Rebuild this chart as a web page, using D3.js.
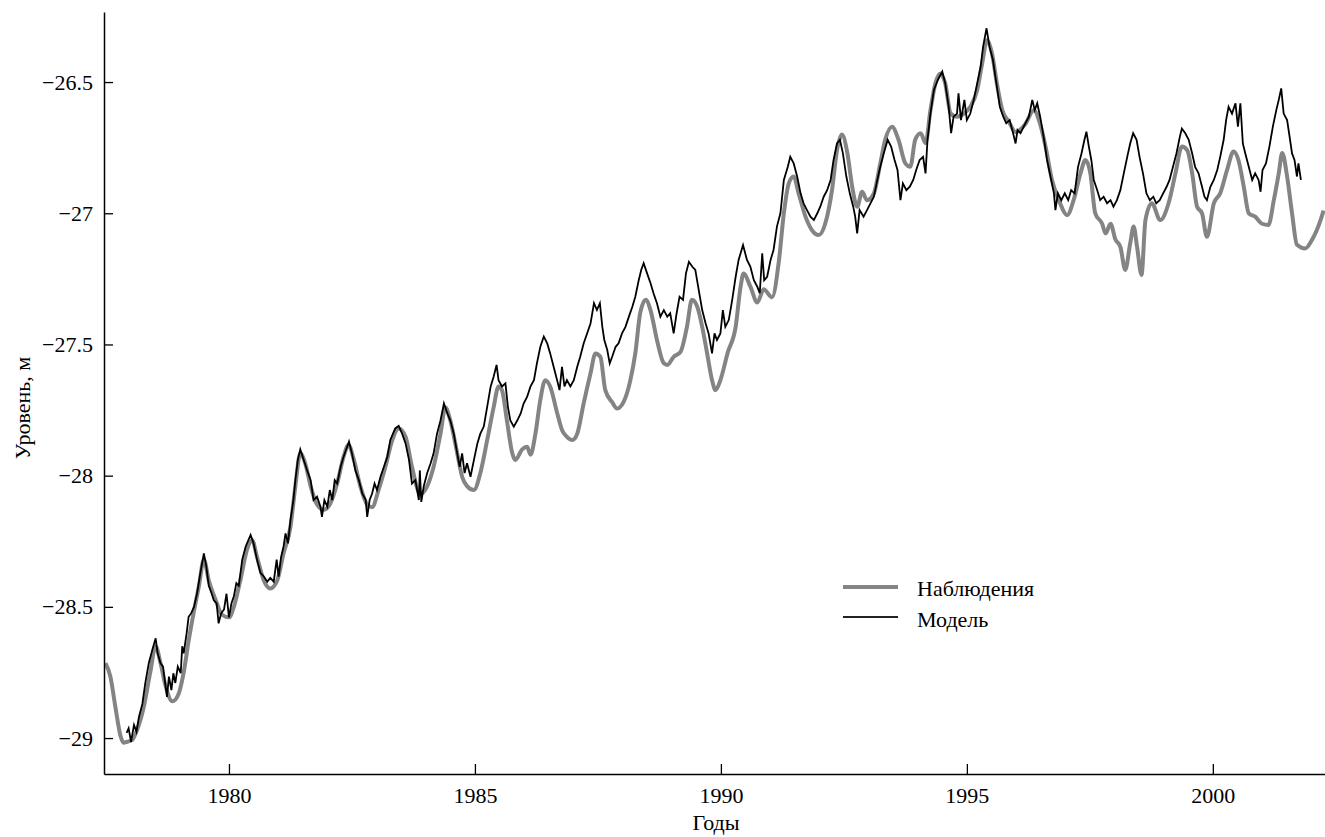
<!DOCTYPE html>
<html>
<head>
<meta charset="utf-8">
<script src="https://cdn.jsdelivr.net/npm/d3@7"></script>
<style>
  body { margin: 0; background: #fff; }
  svg { display: block; font-family: "Liberation Serif", "DejaVu Serif", serif; }
</style>
</head>
<body>
<svg id="chart" width="1325" height="837"></svg>
<script>
var xTicks = [1980, 1985, 1990, 1995, 2000];
var yTicks = [-26.5, -27, -27.5, -28, -28.5, -29];
var legendLabels = ["Наблюдения", "Модель"];

// [year, level, m]
var observed = [
  [1977.49,-28.715],[1977.59,-28.766],[1977.69,-28.88],[1977.80,-28.995],[1977.86,-29.018],[1977.93,-29.014],
  [1978.03,-29.008],[1978.13,-28.97],[1978.27,-28.88],[1978.40,-28.75],[1978.51,-28.65],[1978.61,-28.715],
  [1978.71,-28.80],[1978.85,-28.86],[1978.98,-28.83],[1979.08,-28.75],[1979.18,-28.63],[1979.28,-28.525],
  [1979.39,-28.42],[1979.49,-28.32],[1979.59,-28.40],[1979.73,-28.474],[1979.86,-28.53],[1980.00,-28.54],
  [1980.10,-28.50],[1980.23,-28.40],[1980.37,-28.28],[1980.47,-28.245],[1980.57,-28.31],[1980.71,-28.40],
  [1980.84,-28.43],[1980.98,-28.40],[1981.11,-28.296],[1981.25,-28.195],[1981.35,-28.04],[1981.45,-27.915],
  [1981.55,-27.953],[1981.66,-28.04],[1981.79,-28.11],[1981.93,-28.13],[1982.06,-28.106],[1982.20,-28.03],
  [1982.33,-27.928],[1982.43,-27.883],[1982.54,-27.94],[1982.67,-28.04],[1982.81,-28.11],[1982.91,-28.12],
  [1983.04,-28.055],[1983.18,-27.966],[1983.32,-27.864],[1983.45,-27.82],[1983.59,-27.852],[1983.72,-27.966],
  [1983.89,-28.07],[1984.03,-28.04],[1984.16,-27.966],[1984.30,-27.84],[1984.40,-27.74],[1984.50,-27.79],
  [1984.64,-27.915],[1984.74,-28.004],[1984.84,-28.04],[1984.98,-28.055],[1985.11,-27.99],[1985.25,-27.864],
  [1985.38,-27.74],[1985.48,-27.66],[1985.55,-27.674],[1985.65,-27.79],[1985.76,-27.915],[1985.82,-27.94],
  [1985.96,-27.90],[1986.06,-27.89],[1986.13,-27.92],[1986.23,-27.84],[1986.33,-27.71],[1986.43,-27.636],
  [1986.53,-27.66],[1986.67,-27.76],[1986.77,-27.826],[1986.87,-27.852],[1986.98,-27.864],[1987.08,-27.84],
  [1987.21,-27.725],[1987.35,-27.61],[1987.45,-27.534],[1987.55,-27.547],[1987.65,-27.674],[1987.79,-27.72],
  [1987.89,-27.744],[1988.02,-27.72],[1988.16,-27.636],[1988.26,-27.534],[1988.36,-27.38],[1988.47,-27.33],
  [1988.57,-27.37],[1988.70,-27.483],[1988.84,-27.572],[1988.91,-27.578],[1989.04,-27.547],[1989.18,-27.528],
  [1989.31,-27.433],[1989.41,-27.33],[1989.52,-27.356],[1989.62,-27.433],[1989.72,-27.534],[1989.82,-27.636],
  [1989.89,-27.674],[1989.99,-27.636],[1990.14,-27.53],[1990.30,-27.433],[1990.40,-27.28],[1990.46,-27.23],
  [1990.60,-27.28],[1990.74,-27.34],[1990.87,-27.29],[1991.04,-27.32],[1991.18,-27.18],[1991.28,-27.0],
  [1991.38,-26.886],[1991.48,-26.86],[1991.58,-26.924],[1991.72,-27.013],[1991.85,-27.064],[1991.99,-27.083],
  [1992.12,-27.04],[1992.26,-26.91],[1992.36,-26.76],[1992.46,-26.70],[1992.57,-26.77],[1992.67,-26.90],
  [1992.77,-26.975],[1992.87,-26.918],[1992.97,-26.95],[1993.11,-26.924],[1993.24,-26.81],[1993.34,-26.72],
  [1993.48,-26.67],[1993.61,-26.72],[1993.75,-26.81],[1993.85,-26.823],[1993.95,-26.72],[1994.06,-26.695],
  [1994.16,-26.733],[1994.26,-26.607],[1994.36,-26.505],[1994.46,-26.467],[1994.56,-26.505],[1994.67,-26.62],
  [1994.80,-26.632],[1994.94,-26.62],[1995.07,-26.594],[1995.21,-26.53],[1995.31,-26.43],[1995.41,-26.34],
  [1995.51,-26.39],[1995.61,-26.505],[1995.72,-26.607],[1995.85,-26.65],[1995.99,-26.69],[1996.19,-26.66],
  [1996.36,-26.607],[1996.49,-26.66],[1996.60,-26.746],[1996.73,-26.873],[1996.87,-26.95],[1997.04,-27.007],
  [1997.17,-26.95],[1997.31,-26.848],[1997.41,-26.797],[1997.51,-26.848],[1997.61,-27.0],[1997.75,-27.04],
  [1997.82,-27.077],[1997.92,-27.04],[1998.02,-27.10],[1998.12,-27.128],[1998.22,-27.216],[1998.32,-27.115],
  [1998.39,-27.05],[1998.46,-27.128],[1998.55,-27.235],[1998.63,-27.026],[1998.76,-26.962],[1998.93,-27.026],
  [1999.10,-26.962],[1999.24,-26.848],[1999.37,-26.746],[1999.48,-26.76],[1999.58,-26.848],[1999.68,-26.975],
  [1999.78,-27.0],[1999.88,-27.09],[2000.02,-26.962],[2000.15,-26.924],[2000.29,-26.835],[2000.42,-26.765],
  [2000.52,-26.797],[2000.63,-26.90],[2000.73,-27.0],[2000.86,-27.013],[2001.00,-27.04],[2001.13,-27.045],
  [2001.24,-26.95],[2001.34,-26.848],[2001.41,-26.77],[2001.51,-26.86],[2001.61,-27.0],[2001.71,-27.12],
  [2001.88,-27.134],[2002.02,-27.10],[2002.19,-27.026],[2002.25,-26.99]
];

var model = [
  [1977.92,-28.98],[1977.96,-28.963],[1978.01,-29.014],[1978.07,-28.95],[1978.12,-28.976],[1978.17,-28.92],
  [1978.24,-28.87],[1978.30,-28.79],[1978.37,-28.715],[1978.44,-28.665],[1978.51,-28.62],[1978.55,-28.677],
  [1978.61,-28.715],[1978.66,-28.728],[1978.71,-28.80],[1978.74,-28.843],[1978.78,-28.766],[1978.83,-28.817],
  [1978.87,-28.753],[1978.91,-28.79],[1978.96,-28.728],[1979.02,-28.753],[1979.05,-28.65],[1979.08,-28.677],
  [1979.14,-28.60],[1979.18,-28.538],[1979.23,-28.525],[1979.29,-28.50],[1979.35,-28.45],[1979.42,-28.37],
  [1979.49,-28.296],[1979.54,-28.347],[1979.59,-28.42],[1979.65,-28.45],[1979.69,-28.474],[1979.75,-28.487],
  [1979.79,-28.563],[1979.84,-28.525],[1979.90,-28.51],[1979.95,-28.45],[1980.00,-28.54],[1980.05,-28.487],
  [1980.10,-28.46],[1980.15,-28.41],[1980.20,-28.42],[1980.27,-28.32],[1980.34,-28.27],[1980.44,-28.226],
  [1980.50,-28.258],[1980.57,-28.32],[1980.64,-28.37],[1980.71,-28.385],[1980.78,-28.404],[1980.84,-28.39],
  [1980.91,-28.404],[1980.97,-28.32],[1981.01,-28.385],[1981.06,-28.31],[1981.11,-28.27],[1981.15,-28.22],
  [1981.20,-28.258],[1981.25,-28.17],[1981.31,-28.093],[1981.35,-28.017],[1981.40,-27.94],[1981.45,-27.90],
  [1981.52,-27.94],[1981.59,-27.98],[1981.66,-28.017],[1981.72,-28.093],[1981.79,-28.08],[1981.86,-28.118],
  [1981.89,-28.157],[1981.94,-28.093],[1982.00,-28.118],[1982.05,-28.055],[1982.10,-28.093],[1982.15,-28.017],
  [1982.20,-28.03],[1982.27,-27.966],[1982.33,-27.928],[1982.44,-27.87],[1982.50,-27.915],[1982.57,-27.98],
  [1982.64,-28.017],[1982.71,-28.068],[1982.78,-28.093],[1982.81,-28.157],[1982.86,-28.093],[1982.91,-28.068],
  [1982.96,-28.03],[1983.01,-28.055],[1983.08,-28.004],[1983.15,-27.966],[1983.22,-27.928],[1983.28,-27.864],
  [1983.38,-27.82],[1983.45,-27.81],[1983.52,-27.84],[1983.59,-27.877],[1983.66,-27.94],[1983.72,-28.03],
  [1983.79,-28.017],[1983.86,-28.093],[1983.88,-27.98],[1983.91,-28.10],[1983.96,-28.04],[1984.03,-27.99],
  [1984.10,-27.953],[1984.16,-27.915],[1984.23,-27.84],[1984.30,-27.79],[1984.37,-27.725],[1984.44,-27.763],
  [1984.50,-27.79],[1984.57,-27.84],[1984.64,-27.915],[1984.69,-27.966],[1984.74,-27.915],[1984.79,-27.99],
  [1984.84,-27.953],[1984.91,-28.004],[1984.98,-27.94],[1985.05,-27.877],[1985.11,-27.84],[1985.18,-27.813],
  [1985.25,-27.737],[1985.32,-27.66],[1985.38,-27.623],[1985.44,-27.578],[1985.48,-27.636],[1985.55,-27.66],
  [1985.62,-27.648],[1985.67,-27.737],[1985.72,-27.79],[1985.79,-27.813],[1985.86,-27.79],[1985.93,-27.763],
  [1985.99,-27.725],[1986.06,-27.70],[1986.13,-27.66],[1986.20,-27.636],[1986.26,-27.572],[1986.33,-27.509],
  [1986.40,-27.47],[1986.47,-27.496],[1986.53,-27.534],[1986.60,-27.585],[1986.67,-27.636],[1986.72,-27.674],
  [1986.77,-27.585],[1986.82,-27.66],[1986.87,-27.636],[1986.94,-27.66],[1987.01,-27.636],[1987.08,-27.585],
  [1987.14,-27.547],[1987.21,-27.496],[1987.28,-27.458],[1987.35,-27.42],[1987.42,-27.343],[1987.48,-27.369],
  [1987.54,-27.343],[1987.59,-27.433],[1987.63,-27.483],[1987.69,-27.521],[1987.74,-27.572],[1987.79,-27.547],
  [1987.86,-27.509],[1987.92,-27.496],[1987.99,-27.458],[1988.06,-27.433],[1988.13,-27.394],[1988.20,-27.356],
  [1988.26,-27.318],[1988.33,-27.255],[1988.38,-27.216],[1988.43,-27.19],[1988.50,-27.229],[1988.57,-27.267],
  [1988.63,-27.305],[1988.70,-27.343],[1988.77,-27.394],[1988.84,-27.369],[1988.91,-27.394],[1988.97,-27.381],
  [1989.04,-27.458],[1989.10,-27.381],[1989.16,-27.318],[1989.23,-27.33],[1989.29,-27.229],[1989.35,-27.185],
  [1989.42,-27.204],[1989.48,-27.216],[1989.55,-27.293],[1989.62,-27.369],[1989.69,-27.42],[1989.75,-27.458],
  [1989.82,-27.534],[1989.87,-27.458],[1989.92,-27.483],[1989.99,-27.458],[1990.04,-27.369],[1990.09,-27.433],
  [1990.16,-27.407],[1990.23,-27.33],[1990.30,-27.242],[1990.36,-27.178],[1990.45,-27.121],[1990.53,-27.178],
  [1990.60,-27.204],[1990.67,-27.255],[1990.74,-27.28],[1990.79,-27.305],[1990.84,-27.153],[1990.88,-27.255],
  [1990.94,-27.242],[1991.01,-27.178],[1991.07,-27.14],[1991.14,-27.05],[1991.21,-27.0],[1991.28,-26.873],
  [1991.36,-26.823],[1991.41,-26.785],[1991.48,-26.81],[1991.55,-26.86],[1991.62,-26.924],[1991.68,-26.962],
  [1991.75,-26.988],[1991.82,-27.013],[1991.89,-27.026],[1991.96,-27.0],[1992.02,-26.975],[1992.09,-26.937],
  [1992.16,-26.912],[1992.23,-26.873],[1992.29,-26.797],[1992.36,-26.734],[1992.42,-26.72],[1992.48,-26.772],
  [1992.55,-26.86],[1992.62,-26.924],[1992.69,-26.975],[1992.73,-27.013],[1992.77,-27.077],[1992.82,-26.988],
  [1992.90,-27.013],[1992.97,-26.988],[1993.04,-26.962],[1993.11,-26.937],[1993.18,-26.873],[1993.24,-26.823],
  [1993.31,-26.772],[1993.39,-26.72],[1993.46,-26.746],[1993.53,-26.797],[1993.59,-26.835],[1993.65,-26.95],
  [1993.70,-26.886],[1993.77,-26.912],[1993.84,-26.899],[1993.91,-26.873],[1993.97,-26.835],[1994.04,-26.797],
  [1994.11,-26.785],[1994.16,-26.848],[1994.20,-26.72],[1994.26,-26.62],[1994.33,-26.53],[1994.41,-26.492],
  [1994.50,-26.46],[1994.56,-26.505],[1994.63,-26.594],[1994.68,-26.695],[1994.73,-26.632],[1994.80,-26.62],
  [1994.83,-26.543],[1994.88,-26.645],[1994.95,-26.568],[1995.00,-26.645],[1995.07,-26.62],[1995.14,-26.568],
  [1995.21,-26.505],[1995.28,-26.441],[1995.33,-26.365],[1995.40,-26.295],[1995.46,-26.365],[1995.53,-26.416],
  [1995.60,-26.505],[1995.67,-26.594],[1995.74,-26.632],[1995.80,-26.657],[1995.87,-26.645],[1995.94,-26.695],
  [1995.99,-26.734],[1996.03,-26.683],[1996.09,-26.695],[1996.12,-26.683],[1996.19,-26.657],[1996.26,-26.632],
  [1996.33,-26.568],[1996.38,-26.607],[1996.43,-26.581],[1996.49,-26.632],[1996.56,-26.708],[1996.63,-26.797],
  [1996.70,-26.86],[1996.77,-26.924],[1996.80,-26.988],[1996.85,-26.924],[1996.92,-26.95],[1996.99,-26.924],
  [1997.06,-26.95],[1997.12,-26.912],[1997.19,-26.924],[1997.26,-26.823],[1997.33,-26.772],[1997.39,-26.72],
  [1997.43,-26.689],[1997.48,-26.746],[1997.53,-26.797],[1997.58,-26.873],[1997.65,-26.912],[1997.71,-26.95],
  [1997.78,-26.937],[1997.85,-26.962],[1997.92,-26.95],[1997.98,-26.975],[1998.05,-26.95],[1998.12,-26.912],
  [1998.19,-26.848],[1998.26,-26.785],[1998.32,-26.734],[1998.38,-26.695],[1998.45,-26.72],[1998.51,-26.785],
  [1998.58,-26.848],[1998.65,-26.924],[1998.72,-26.95],[1998.79,-26.937],[1998.85,-26.962],[1998.92,-26.95],
  [1998.99,-26.924],[1999.06,-26.899],[1999.12,-26.873],[1999.19,-26.823],[1999.26,-26.772],[1999.33,-26.708],
  [1999.37,-26.677],[1999.44,-26.695],[1999.51,-26.72],[1999.58,-26.772],[1999.64,-26.823],[1999.71,-26.848],
  [1999.78,-26.899],[1999.83,-26.937],[1999.88,-26.95],[1999.95,-26.899],[2000.02,-26.873],[2000.09,-26.835],
  [2000.15,-26.785],[2000.22,-26.72],[2000.27,-26.645],[2000.32,-26.594],[2000.39,-26.62],[2000.46,-26.581],
  [2000.51,-26.67],[2000.56,-26.581],[2000.61,-26.734],[2000.66,-26.772],[2000.73,-26.823],[2000.80,-26.873],
  [2000.86,-26.848],[2000.93,-26.873],[2000.97,-26.918],[2001.01,-26.835],[2001.08,-26.81],[2001.15,-26.746],
  [2001.22,-26.67],[2001.29,-26.607],[2001.34,-26.568],[2001.39,-26.524],[2001.44,-26.62],[2001.51,-26.645],
  [2001.56,-26.708],[2001.61,-26.772],[2001.66,-26.797],[2001.71,-26.86],[2001.74,-26.81],[2001.79,-26.873]
];

var svg = d3.select("#chart");
var margin = {top: 12, right: 0, bottom: 63, left: 104};
var width = 1325, height = 837;
var tickFont = "22px", labelFont = "22px";

var x = d3.scaleLinear()
  .domain([1977.46, 2002.28])
  .range([margin.left, width - margin.right]);

var y = d3.scaleLinear()
  .domain([-29.137, -26.233])
  .range([height - margin.bottom, margin.top]);

svg.append("defs").append("clipPath")
    .attr("id", "plotClip")
  .append("rect")
    .attr("x", margin.left)
    .attr("y", margin.top)
    .attr("width", width - margin.left - margin.right)
    .attr("height", height - margin.top - margin.bottom);

var line = d3.line()
  .x(function(d) { return x(d[0]); })
  .y(function(d) { return y(d[1]); });

var plot = svg.append("g").attr("clip-path", "url(#plotClip)");

plot.append("path")
  .datum(observed)
  .attr("fill", "none")
  .attr("stroke", "#848484")
  .attr("stroke-width", 4)
  .attr("stroke-linejoin", "round")
  .attr("d", line.curve(d3.curveMonotoneX));

plot.append("path")
  .datum(model)
  .attr("fill", "none")
  .attr("stroke", "#000")
  .attr("stroke-width", 1.8)
  .attr("d", line.curve(d3.curveLinear));

// axes, ticks pointing inwards
var xAxis = svg.append("g")
  .attr("transform", "translate(0," + (height - margin.bottom) + ")")
  .call(d3.axisBottom(x).tickValues(xTicks).tickFormat(d3.format("d"))
    .tickSizeInner(-10).tickSizeOuter(0).tickPadding(13));

var yAxis = svg.append("g")
  .attr("transform", "translate(" + margin.left + ",0)")
  .call(d3.axisLeft(y).tickValues(yTicks).tickFormat(d3.format("~g"))
    .tickSizeInner(-9).tickSizeOuter(0).tickPadding(11));

[xAxis, yAxis].forEach(function(a) {
  a.select(".domain").attr("stroke", "#000").attr("stroke-width", 1.5);
  a.selectAll(".tick line").attr("stroke", "#000").attr("stroke-width", 1.3);
  a.selectAll(".tick text")
    .attr("fill", "#000")
    .style("font-family", "'Liberation Serif', serif")
    .style("font-size", tickFont);
});

svg.append("text")
  .attr("x", 716)
  .attr("y", 830)
  .attr("text-anchor", "middle")
  .style("font-size", labelFont)
  .text("Годы");

svg.append("text")
  .attr("transform", "translate(30,408) rotate(-90)")
  .attr("text-anchor", "middle")
  .style("font-size", labelFont)
  .text("Уровень, м");

// legend
var legend = svg.append("g").attr("transform", "translate(843,587)");
var legendStyles = [
  {color: "#848484", w: 4},
  {color: "#222", w: 2}
];

legend.selectAll("line")
  .data(legendLabels)
  .enter().append("line")
    .attr("x1", 0)
    .attr("x2", 55)
    .attr("y1", function(d, i) { return i * 30; })
    .attr("y2", function(d, i) { return i * 30; })
    .attr("stroke", function(d, i) { return legendStyles[i].color; })
    .attr("stroke-width", function(d, i) { return legendStyles[i].w; });

legend.selectAll("text")
  .data(legendLabels)
  .enter().append("text")
    .attr("x", 74)
    .attr("y", function(d, i) { return i * 31 + 9; })
    .style("font-size", labelFont)
    .text(function(d) { return d; });
</script>
</body>
</html>
